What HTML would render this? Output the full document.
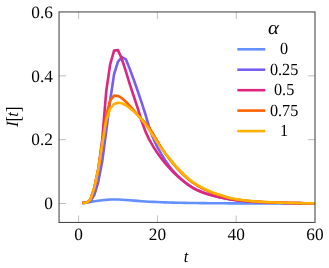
<!DOCTYPE html>
<html><head><meta charset="utf-8"><title>plot</title>
<style>
html,body{margin:0;padding:0;background:#fff;}
body{width:329px;height:268px;overflow:hidden;position:relative;}
.t{font-family:"Liberation Serif",serif;fill:#000;text-rendering:geometricPrecision;}
.i{font-style:italic;}
</style></head><body>
<svg width="329" height="268" viewBox="0 0 329 268" style="position:absolute;left:0;top:0">
<rect width="329" height="268" fill="#fff"/>
<line x1="78.60" y1="222.45" x2="78.60" y2="215.45" stroke="#8a8a8a" stroke-width="0.55"/>
<line x1="78.60" y1="11.95" x2="78.60" y2="18.95" stroke="#8a8a8a" stroke-width="0.55"/>
<line x1="157.40" y1="222.45" x2="157.40" y2="215.45" stroke="#8a8a8a" stroke-width="0.55"/>
<line x1="157.40" y1="11.95" x2="157.40" y2="18.95" stroke="#8a8a8a" stroke-width="0.55"/>
<line x1="236.20" y1="222.45" x2="236.20" y2="215.45" stroke="#8a8a8a" stroke-width="0.55"/>
<line x1="236.20" y1="11.95" x2="236.20" y2="18.95" stroke="#8a8a8a" stroke-width="0.55"/>
<line x1="59.05" y1="203.50" x2="66.05" y2="203.50" stroke="#8a8a8a" stroke-width="0.55"/>
<line x1="315.0" y1="203.50" x2="308.0" y2="203.50" stroke="#8a8a8a" stroke-width="0.55"/>
<line x1="59.05" y1="139.67" x2="66.05" y2="139.67" stroke="#8a8a8a" stroke-width="0.55"/>
<line x1="315.0" y1="139.67" x2="308.0" y2="139.67" stroke="#8a8a8a" stroke-width="0.55"/>
<line x1="59.05" y1="75.83" x2="66.05" y2="75.83" stroke="#8a8a8a" stroke-width="0.55"/>
<line x1="315.0" y1="75.83" x2="308.0" y2="75.83" stroke="#8a8a8a" stroke-width="0.55"/>
<polyline points="82.54,202.86 86.48,202.41 90.42,201.90 94.36,201.29 98.30,200.69 102.24,200.20 106.18,199.83 110.12,199.57 114.06,199.45 118.00,199.54 121.94,199.73 125.88,200.00 129.82,200.30 133.76,200.61 137.70,200.92 141.64,201.20 145.58,201.45 149.52,201.68 153.46,201.89 157.40,202.06 161.34,202.22 165.28,202.36 169.22,202.49 173.16,202.60 177.10,202.70 181.04,202.79 184.98,202.87 188.92,202.94 192.86,203.00 196.80,203.05 200.74,203.10 204.68,203.14 208.62,203.18 212.56,203.22 216.50,203.26 220.44,203.29 224.38,203.32 228.32,203.34 232.26,203.36 236.20,203.37 240.14,203.38 244.08,203.39 248.02,203.40 251.96,203.42 255.90,203.42 259.84,203.43 263.78,203.44 267.72,203.45 271.66,203.46 275.60,203.46 279.54,203.47 283.48,203.48 287.42,203.48 291.36,203.49 295.30,203.49 299.24,203.49 303.18,203.50 307.12,203.50 311.06,203.50 315.00,203.50" fill="none" stroke="#648fff" stroke-width="2.6" stroke-linejoin="round"/>
<polyline points="82.54,202.86 86.48,202.80 90.42,201.27 94.36,194.88 98.30,181.80 102.24,161.37 106.18,131.69 110.12,100.73 114.06,74.24 118.00,61.60 121.94,57.13 125.88,59.33 129.82,69.13 133.76,79.82 137.70,90.99 141.64,102.64 145.58,114.77 149.52,128.48 153.46,138.68 157.40,147.08 161.34,154.12 165.28,160.43 169.22,166.06 173.16,170.98 177.10,175.19 181.04,178.88 184.98,182.19 188.92,185.11 192.86,187.61 196.80,189.68 200.74,191.44 204.68,192.95 208.62,194.29 212.56,195.48 216.50,196.52 220.44,197.44 224.38,198.29 228.32,199.10 232.26,199.78 236.20,200.28 240.14,200.69 244.08,201.04 248.02,201.36 251.96,201.63 255.90,201.86 259.84,202.06 263.78,202.24 267.72,202.40 271.66,202.54 275.60,202.67 279.54,202.77 283.48,202.86 287.42,202.94 291.36,203.02 295.30,203.09 299.24,203.15 303.18,203.21 307.12,203.26 311.06,203.29 315.00,203.31" fill="none" stroke="#785ef0" stroke-width="2.6" stroke-linejoin="round"/>
<polyline points="82.54,202.86 86.48,202.80 90.42,199.67 94.36,187.54 98.30,169.03 102.24,139.67 106.18,91.79 110.12,64.66 114.06,50.62 118.00,50.14 121.94,59.24 125.88,71.37 129.82,84.45 133.76,96.26 137.70,108.07 141.64,121.00 145.58,131.91 149.52,140.12 153.46,146.93 157.40,152.94 161.34,158.40 165.28,163.36 169.22,167.87 173.16,171.98 177.10,175.72 181.04,179.25 184.98,182.53 188.92,185.49 192.86,188.01 196.80,190.04 200.74,191.74 204.68,193.20 208.62,194.47 212.56,195.60 216.50,196.57 220.44,197.44 224.38,198.28 228.32,199.09 232.26,199.78 236.20,200.28 240.14,200.69 244.08,201.04 248.02,201.36 251.96,201.63 255.90,201.86 259.84,202.06 263.78,202.24 267.72,202.40 271.66,202.54 275.60,202.67 279.54,202.77 283.48,202.86 287.42,202.94 291.36,203.02 295.30,203.09 299.24,203.15 303.18,203.21 307.12,203.26 311.06,203.29 315.00,203.31" fill="none" stroke="#dc267f" stroke-width="2.6" stroke-linejoin="round"/>
<polyline points="82.54,202.86 86.48,202.80 90.42,199.67 94.36,187.54 98.30,169.03 102.24,143.50 106.18,115.73 110.12,100.41 114.06,95.62 118.00,95.94 121.94,98.25 125.88,101.71 129.82,105.87 133.76,110.27 137.70,114.91 141.64,119.29 145.58,123.22 149.52,128.18 153.46,134.36 157.40,141.07 161.34,147.60 165.28,153.46 169.22,158.82 173.16,163.67 177.10,168.26 181.04,172.48 184.98,176.27 188.92,179.66 192.86,182.67 196.80,185.28 200.74,187.51 204.68,189.56 208.62,191.43 212.56,192.98 216.50,194.32 220.44,195.52 224.38,196.67 228.32,197.76 232.26,198.69 236.20,199.37 240.14,199.94 244.08,200.44 248.02,200.88 251.96,201.26 255.90,201.58 259.84,201.84 263.78,202.06 267.72,202.25 271.66,202.43 275.60,202.57 279.54,202.70 283.48,202.80 287.42,202.89 291.36,202.97 295.30,203.05 299.24,203.12 303.18,203.18 307.12,203.23 311.06,203.26 315.00,203.28" fill="none" stroke="#fe6100" stroke-width="2.6" stroke-linejoin="round"/>
<polyline points="82.54,202.86 86.48,202.80 90.42,199.67 94.36,187.54 98.30,169.03 102.24,144.13 106.18,120.52 110.12,108.71 114.06,103.92 118.00,102.71 121.94,103.33 125.88,105.26 129.82,108.33 133.76,111.33 137.70,115.18 141.64,119.61 145.58,124.50 149.52,130.08 153.46,136.25 157.40,142.51 161.34,148.39 165.28,153.49 169.22,158.18 173.16,162.91 177.10,167.50 181.04,171.74 184.98,175.53 188.92,178.93 192.86,182.02 196.80,184.65 200.74,186.87 204.68,188.91 208.62,190.79 212.56,192.38 216.50,193.78 220.44,195.04 224.38,196.27 228.32,197.44 232.26,198.43 236.20,199.16 240.14,199.74 244.08,200.27 248.02,200.72 251.96,201.11 255.90,201.44 259.84,201.71 263.78,201.94 267.72,202.14 271.66,202.31 275.60,202.46 279.54,202.59 283.48,202.70 287.42,202.80 291.36,202.89 295.30,202.98 299.24,203.06 303.18,203.13 307.12,203.18 311.06,203.22 315.00,203.24" fill="none" stroke="#ffb000" stroke-width="2.6" stroke-linejoin="round"/>
<rect x="59.05" y="11.95" width="255.95" height="210.5" fill="none" stroke="#444" stroke-width="1.05"/>
<g opacity="0.999">
<line x1="237.3" y1="49.3" x2="265.3" y2="49.3" stroke="#648fff" stroke-width="2.6"/>
<text transform="translate(284.10,54.30) scale(0.955,1)" text-anchor="middle" class="t" font-size="17.0">0</text>
<line x1="237.3" y1="69.7" x2="265.3" y2="69.7" stroke="#785ef0" stroke-width="2.6"/>
<text transform="translate(284.10,74.70) scale(0.955,1)" text-anchor="middle" class="t" font-size="17.0">0.25</text>
<line x1="237.3" y1="90.2" x2="265.3" y2="90.2" stroke="#dc267f" stroke-width="2.6"/>
<text transform="translate(284.10,95.20) scale(0.955,1)" text-anchor="middle" class="t" font-size="17.0">0.5</text>
<line x1="237.3" y1="110.6" x2="265.3" y2="110.6" stroke="#fe6100" stroke-width="2.6"/>
<text transform="translate(284.10,115.60) scale(0.955,1)" text-anchor="middle" class="t" font-size="17.0">0.75</text>
<line x1="237.3" y1="131.1" x2="265.3" y2="131.1" stroke="#ffb000" stroke-width="2.6"/>
<text transform="translate(284.10,136.10) scale(0.955,1)" text-anchor="middle" class="t" font-size="17.0">1</text>
<text transform="translate(273.40,34.00) scale(1.08,1)" text-anchor="middle" class="t i" font-size="19.3">α</text>
<text transform="translate(78.60,240.40) scale(1.0,1)" text-anchor="middle" class="t" font-size="17.3">0</text>
<text transform="translate(157.40,240.40) scale(1.0,1)" text-anchor="middle" class="t" font-size="17.3">20</text>
<text transform="translate(236.20,240.40) scale(1.0,1)" text-anchor="middle" class="t" font-size="17.3">40</text>
<text transform="translate(315.00,240.40) scale(1.0,1)" text-anchor="middle" class="t" font-size="17.3">60</text>
<text transform="translate(52.90,209.20) scale(1.0,1)" text-anchor="end" class="t" font-size="17.3">0</text>
<text transform="translate(52.90,145.37) scale(1.0,1)" text-anchor="end" class="t" font-size="17.3">0.2</text>
<text transform="translate(52.90,81.53) scale(1.0,1)" text-anchor="end" class="t" font-size="17.3">0.4</text>
<text transform="translate(52.90,17.70) scale(1.0,1)" text-anchor="end" class="t" font-size="17.3">0.6</text>
<text transform="translate(186.10,262.00) scale(0.95,1)" text-anchor="middle" class="t i" font-size="17.0">t</text>
<g transform="translate(18.1,126.9) rotate(-90)">
<text x="0" y="0" class="t i" font-size="17.2">I</text>
<text transform="translate(5.5,1.6) scale(0.8,1)" class="t" font-size="20.2">[</text>
<text transform="translate(10.1,0) scale(0.95,1)" class="t i" font-size="17.2">t</text>
<text transform="translate(14.9,1.6) scale(0.8,1)" class="t" font-size="20.2">]</text>
</g>
</g>
</svg>
</body></html>
